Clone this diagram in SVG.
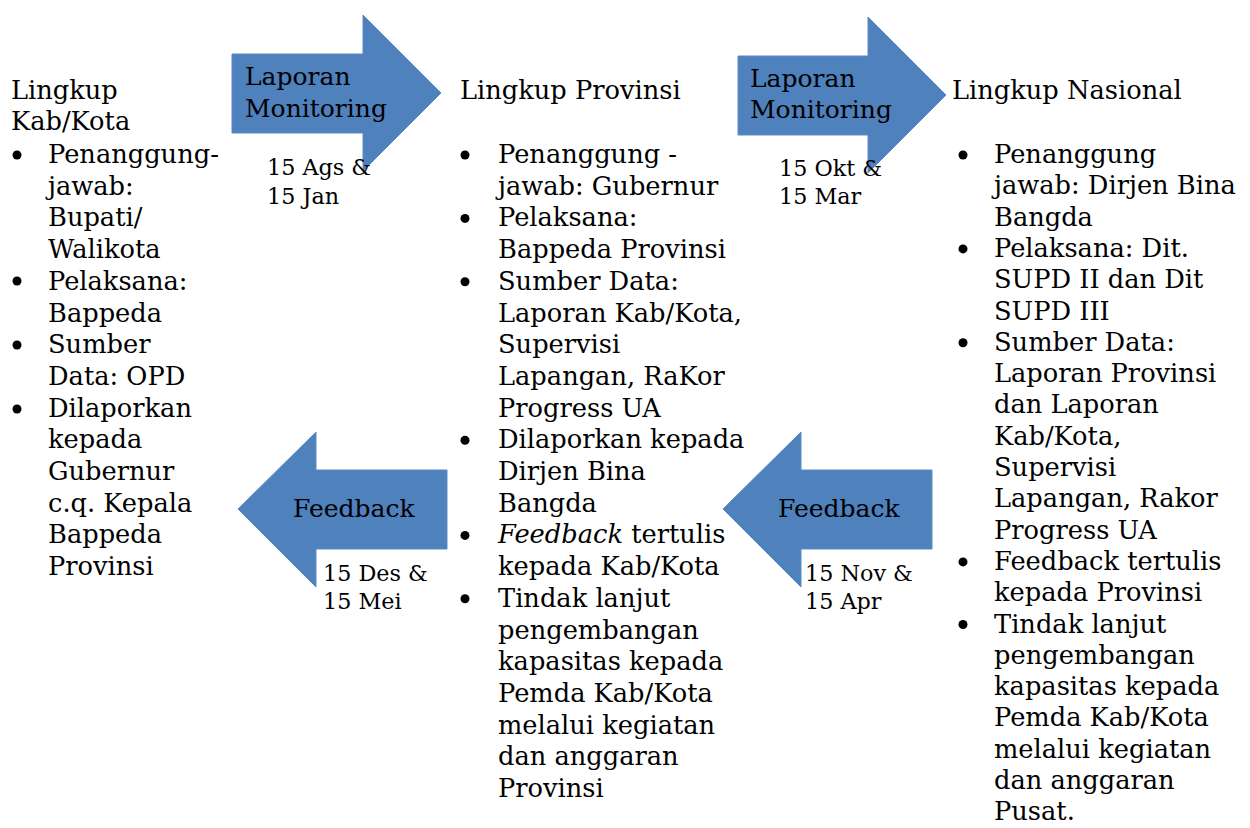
<svg xmlns="http://www.w3.org/2000/svg" width="1250" height="828" viewBox="0 0 1250 828">
<style>
text{font-family:"DejaVu Serif","Liberation Serif",serif;fill:#000}
.t{font-size:25.7px}
.l{font-size:25px}
.d{font-size:22.3px}
.a{fill:#4F81BD;stroke:#5B8BC6;stroke-width:1}
.b{fill:#000}
</style>
<rect width="1250" height="828" fill="#fff"/>
<g id="connectors">
<g id="arrow-lapor-1">
<path class="a" d="M232,54 H363 V15 L441,93 L363,171 V133 H232 Z"/>
<text class="l" x="245" y="85">Laporan</text>
<text class="l" x="245" y="117">Monitoring</text>
<text class="d" x="267" y="175">15 Ags &amp;</text>
<text class="d" x="267" y="204">15 Jan</text>
</g>
<g id="arrow-lapor-2">
<path class="a" d="M738,56 H868 V17 L946,95 L868,173 V135 H738 Z"/>
<text class="l" x="750" y="87">Laporan</text>
<text class="l" x="750" y="118">Monitoring</text>
<text class="d" x="779" y="176">15 Okt &amp;</text>
<text class="d" x="779" y="204">15 Mar</text>
</g>
<g id="arrow-feedback-1">
<path class="a" d="M447,470 H316 V432 L238,509 L316,587 V549 H447 Z"/>
<text class="l" x="293" y="517">Feedback</text>
<text class="d" x="323" y="581">15 Des &amp;</text>
<text class="d" x="323" y="609">15 Mei</text>
</g>
<g id="arrow-feedback-2">
<path class="a" d="M932,470 H801 V432 L723,509 L801,587 V549 H932 Z"/>
<text class="l" x="778" y="517">Feedback</text>
<text class="d" x="805" y="581">15 Nov &amp;</text>
<text class="d" x="805" y="609">15 Apr</text>
</g>
</g>
<g id="kabkota">
<text class="t" x="11" y="99">Lingkup</text>
<text class="t" x="11" y="130">Kab/Kota</text>
<circle class="b" cx="17" cy="155" r="4.5"/>
<circle class="b" cx="17" cy="281" r="4.5"/>
<circle class="b" cx="17" cy="345" r="4.5"/>
<circle class="b" cx="17" cy="409" r="4.5"/>
<text class="t" x="48" y="163">Penanggung-</text>
<text class="t" x="48" y="194.7">jawab:</text>
<text class="t" x="48" y="226.4">Bupati/</text>
<text class="t" x="48" y="258.1">Walikota</text>
<text class="t" x="48" y="289.8">Pelaksana:</text>
<text class="t" x="48" y="321.5">Bappeda</text>
<text class="t" x="48" y="353.2">Sumber</text>
<text class="t" x="48" y="384.9">Data: OPD</text>
<text class="t" x="48" y="416.6">Dilaporkan</text>
<text class="t" x="48" y="448.3">kepada</text>
<text class="t" x="48" y="480">Gubernur</text>
<text class="t" x="48" y="511.7">c.q. Kepala</text>
<text class="t" x="48" y="543.4">Bappeda</text>
<text class="t" x="48" y="575.1">Provinsi</text>
</g>
<g id="provinsi">
<text class="t" x="460" y="99">Lingkup Provinsi</text>
<circle class="b" cx="465" cy="155" r="4.5"/>
<circle class="b" cx="465" cy="218.4" r="4.5"/>
<circle class="b" cx="465" cy="281.8" r="4.5"/>
<circle class="b" cx="465" cy="440.3" r="4.5"/>
<circle class="b" cx="465" cy="535.4" r="4.5"/>
<circle class="b" cx="465" cy="598.8" r="4.5"/>
<text class="t" x="498" y="163">Penanggung -</text>
<text class="t" x="498" y="194.7">jawab: Gubernur</text>
<text class="t" x="498" y="226.4">Pelaksana:</text>
<text class="t" x="498" y="258.1">Bappeda Provinsi</text>
<text class="t" x="498" y="289.8">Sumber Data:</text>
<text class="t" x="498" y="321.5">Laporan Kab/Kota,</text>
<text class="t" x="498" y="353.2">Supervisi</text>
<text class="t" x="498" y="384.9">Lapangan, RaKor</text>
<text class="t" x="498" y="416.6">Progress UA</text>
<text class="t" x="498" y="448.3">Dilaporkan kepada</text>
<text class="t" x="498" y="480">Dirjen Bina</text>
<text class="t" x="498" y="511.7">Bangda</text>
<text class="t" x="498" y="543.4"><tspan font-style="italic">Feedback</tspan> tertulis</text>
<text class="t" x="498" y="575.1">kepada Kab/Kota</text>
<text class="t" x="498" y="606.8">Tindak lanjut</text>
<text class="t" x="498" y="638.5">pengembangan</text>
<text class="t" x="498" y="670.2">kapasitas kepada</text>
<text class="t" x="498" y="701.9">Pemda Kab/Kota</text>
<text class="t" x="498" y="733.6">melalui kegiatan</text>
<text class="t" x="498" y="765.3">dan anggaran</text>
<text class="t" x="498" y="797">Provinsi</text>
</g>
<g id="nasional">
<text class="t" x="952" y="99">Lingkup Nasional</text>
<circle class="b" cx="963" cy="155" r="4.5"/>
<circle class="b" cx="963" cy="248.9" r="4.5"/>
<circle class="b" cx="963" cy="342.8" r="4.5"/>
<circle class="b" cx="963" cy="561.9" r="4.5"/>
<circle class="b" cx="963" cy="624.5" r="4.5"/>
<text class="t" x="994" y="163">Penanggung</text>
<text class="t" x="994" y="194.3">jawab: Dirjen Bina</text>
<text class="t" x="994" y="225.6">Bangda</text>
<text class="t" x="994" y="256.9">Pelaksana: Dit.</text>
<text class="t" x="994" y="288.2">SUPD II dan Dit</text>
<text class="t" x="994" y="319.5">SUPD III</text>
<text class="t" x="994" y="350.8">Sumber Data:</text>
<text class="t" x="994" y="382.1">Laporan Provinsi</text>
<text class="t" x="994" y="413.4">dan Laporan</text>
<text class="t" x="994" y="444.7">Kab/Kota,</text>
<text class="t" x="994" y="476">Supervisi</text>
<text class="t" x="994" y="507.3">Lapangan, Rakor</text>
<text class="t" x="994" y="538.6">Progress UA</text>
<text class="t" x="994" y="569.9">Feedback tertulis</text>
<text class="t" x="994" y="601.2">kepada Provinsi</text>
<text class="t" x="994" y="632.5">Tindak lanjut</text>
<text class="t" x="994" y="663.8">pengembangan</text>
<text class="t" x="994" y="695.1">kapasitas kepada</text>
<text class="t" x="994" y="726.4">Pemda Kab/Kota</text>
<text class="t" x="994" y="757.7">melalui kegiatan</text>
<text class="t" x="994" y="789">dan anggaran</text>
<text class="t" x="994" y="820.3">Pusat.</text>
</g>
</svg>
